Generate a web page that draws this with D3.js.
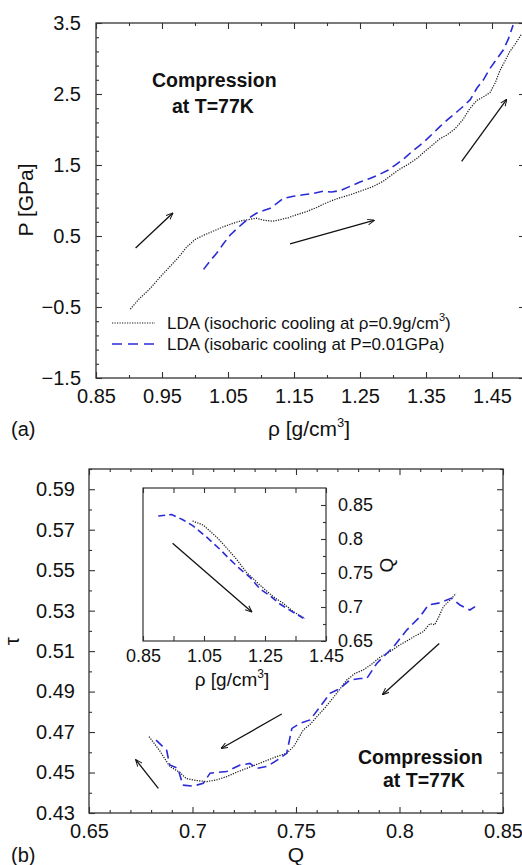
<!DOCTYPE html>
<html>
<head>
<meta charset="utf-8">
<script src="https://cdn.jsdelivr.net/npm/d3@7"></script>
<style>
  body { margin: 0; background: #fff; }
  svg { display: block; font-family: "Liberation Sans", Arial, sans-serif; }
  .tick text { fill: #111; }
  .tick line { stroke: #333; }
</style>
</head>
<body>
<svg id="fig" width="522" height="865"></svg>
<script>
// (a) P vs rho, isochoric LDA (black dotted)
var isoRho = [0.902, 0.915, 0.932, 0.947, 0.962, 0.975, 0.987, 1.000, 1.013, 1.028, 1.043, 1.055, 1.068, 1.08, 1.093, 1.105, 1.118, 1.129, 1.142, 1.154, 1.168, 1.184, 1.195, 1.205, 1.22, 1.235, 1.25, 1.268, 1.285, 1.298, 1.31, 1.323, 1.336, 1.348, 1.361, 1.371, 1.381, 1.394, 1.406, 1.416, 1.427, 1.437, 1.447, 1.455, 1.462, 1.47, 1.477, 1.485, 1.495];
var isoP = [-0.53, -0.39, -0.24, -0.08, 0.07, 0.2, 0.34, 0.45, 0.51, 0.57, 0.63, 0.67, 0.71, 0.73, 0.75, 0.72, 0.71, 0.73, 0.76, 0.80, 0.84, 0.90, 0.95, 0.99, 1.04, 1.08, 1.13, 1.19, 1.27, 1.36, 1.44, 1.51, 1.59, 1.69, 1.79, 1.87, 1.92, 2.01, 2.14, 2.29, 2.41, 2.46, 2.52, 2.66, 2.83, 2.97, 3.1, 3.2, 3.35];
// (a) isobaric LDA (blue dashed)
var isbRho = [1.013, 1.023, 1.033, 1.043, 1.053, 1.063, 1.073, 1.083, 1.093, 1.104, 1.114, 1.124, 1.134, 1.149, 1.164, 1.179, 1.194, 1.207, 1.22, 1.235, 1.25, 1.265, 1.28, 1.293, 1.305, 1.318, 1.33, 1.341, 1.351, 1.361, 1.371, 1.384, 1.397, 1.407, 1.417, 1.427, 1.437, 1.447, 1.457, 1.467, 1.475, 1.482];
var isbP = [0.03, 0.15, 0.26, 0.39, 0.51, 0.60, 0.68, 0.76, 0.82, 0.86, 0.89, 0.96, 1.03, 1.06, 1.08, 1.10, 1.13, 1.12, 1.14, 1.20, 1.26, 1.31, 1.37, 1.43, 1.51, 1.60, 1.70, 1.78, 1.86, 1.95, 2.04, 2.15, 2.25, 2.33, 2.42, 2.58, 2.70, 2.86, 2.99, 3.12, 3.28, 3.47];

// (b) tau vs Q
var isoQ = [0.679, 0.684, 0.689, 0.694, 0.697, 0.702, 0.707, 0.712, 0.7165, 0.721, 0.726, 0.731, 0.736, 0.741, 0.7455, 0.749, 0.7535, 0.757, 0.760, 0.764, 0.768, 0.771, 0.7745, 0.7785, 0.7825, 0.7865, 0.7906, 0.795, 0.800, 0.8035, 0.8067, 0.8115, 0.8147, 0.817, 0.819, 0.8212, 0.8244, 0.8273];
var isoTau = [0.4677, 0.461, 0.453, 0.450, 0.447, 0.446, 0.4455, 0.4465, 0.448, 0.450, 0.452, 0.454, 0.456, 0.458, 0.4595, 0.463, 0.471, 0.474, 0.4775, 0.482, 0.487, 0.491, 0.4957, 0.499, 0.5007, 0.5035, 0.507, 0.5095, 0.513, 0.515, 0.517, 0.5196, 0.5236, 0.523, 0.527, 0.532, 0.5352, 0.5385];
var isbQ = [0.6824, 0.6875, 0.689, 0.693, 0.6953, 0.7004, 0.7052, 0.7085, 0.7165, 0.723, 0.7278, 0.731, 0.736, 0.7407, 0.7455, 0.748, 0.752, 0.7568, 0.7616, 0.7664, 0.7713, 0.776, 0.781, 0.7842, 0.789, 0.7938, 0.797, 0.8035, 0.8099, 0.8139, 0.8188, 0.8252, 0.8292, 0.834, 0.8365];
var isbTau = [0.466, 0.461, 0.4537, 0.452, 0.4438, 0.4433, 0.4447, 0.4497, 0.4505, 0.4537, 0.4545, 0.452, 0.453, 0.456, 0.4595, 0.4718, 0.4743, 0.476, 0.4825, 0.4891, 0.4916, 0.4957, 0.4965, 0.4965, 0.5039, 0.5088, 0.512, 0.5204, 0.527, 0.5328, 0.5337, 0.5362, 0.5328, 0.5303, 0.532];

// inset: Q vs rho
var insIsoRho = [1.0125, 1.047, 1.091, 1.124, 1.157, 1.19, 1.233, 1.277, 1.31, 1.343, 1.381];
var insIsoQ = [0.8265, 0.8206, 0.803, 0.787, 0.770, 0.7506, 0.7324, 0.7151, 0.7054, 0.6931, 0.6833];
var insIsbRho = [0.900, 0.944, 0.982, 1.015, 1.058, 1.102, 1.135, 1.168, 1.2, 1.234, 1.266, 1.299, 1.332, 1.376];
var insIsbQ = [0.8338, 0.836, 0.828, 0.819, 0.803, 0.785, 0.770, 0.756, 0.744, 0.7265, 0.7166, 0.7044, 0.6951, 0.6834];

// arrows [x1, y1, x2, y2] in data units
var arrowsA = [[0.91, 0.33, 0.966, 0.82], [1.144, 0.39, 1.271, 0.72], [1.404, 1.55, 1.472, 2.42]];
var arrowsB = [[0.6835, 0.4422, 0.6727, 0.4562], [0.7431, 0.4789, 0.7140, 0.4620], [0.8192, 0.5138, 0.7919, 0.4886]];
var arrowsIns = [[0.947, 0.7937, 1.206, 0.6931]];

var legendLabels = ["LDA (isochoric cooling at \u03C1=0.9g/cm", "LDA (isobaric cooling at P=0.01GPa)"];

var svg = d3.select("#fig");
var BLUE = "#2b2bd6";
var INK = "#111";

function zip(a, b) { return a.map((v, i) => [v, b[i]]); }
function rnd(v) { return Math.round(v * 1000) / 1000; }

svg.append("defs").append("marker")
    .attr("id", "head")
    .attr("viewBox", "0 0 10 10")
    .attr("refX", 9).attr("refY", 5)
    .attr("markerWidth", 7).attr("markerHeight", 7)
    .attr("markerUnits", "userSpaceOnUse")
    .attr("orient", "auto")
  .append("path")
    .attr("d", "M0,1 L10,5 L0,9")
    .attr("fill", "none").attr("stroke", INK).attr("stroke-width", 1.4);

// inward ticks on all four sides, labels on left/bottom
function frame(g, x, y, xMaj, xMin, yMaj, yMin, xFmt, yFmt, fs, xPad, yPad) {
    var x0 = x.range()[0], x1 = x.range()[1], y0 = y.range()[0], y1 = y.range()[1];
    g.append("g").attr("transform", `translate(0,${y0})`)
        .call(d3.axisBottom(x).tickValues(xMaj).tickSizeInner(-6).tickSizeOuter(0).tickPadding(xPad).tickFormat(xFmt));
    g.append("g").attr("transform", `translate(0,${y0})`)
        .call(d3.axisBottom(x).tickValues(xMin).tickSizeInner(-3).tickSizeOuter(0).tickFormat(""));
    g.append("g").attr("transform", `translate(0,${y1})`)
        .call(d3.axisTop(x).tickValues(xMaj).tickSizeInner(-6).tickSizeOuter(0).tickFormat(""));
    g.append("g").attr("transform", `translate(0,${y1})`)
        .call(d3.axisTop(x).tickValues(xMin).tickSizeInner(-3).tickSizeOuter(0).tickFormat(""));
    g.append("g").attr("transform", `translate(${x0},0)`)
        .call(d3.axisLeft(y).tickValues(yMaj).tickSizeInner(-6).tickSizeOuter(0).tickPadding(yPad).tickFormat(yFmt));
    g.append("g").attr("transform", `translate(${x0},0)`)
        .call(d3.axisLeft(y).tickValues(yMin).tickSizeInner(-3).tickSizeOuter(0).tickFormat(""));
    g.append("g").attr("transform", `translate(${x1},0)`)
        .call(d3.axisRight(y).tickValues(yMaj).tickSizeInner(-6).tickSizeOuter(0).tickFormat(""));
    g.append("g").attr("transform", `translate(${x1},0)`)
        .call(d3.axisRight(y).tickValues(yMin).tickSizeInner(-3).tickSizeOuter(0).tickFormat(""));
    g.selectAll(".domain").remove();
    g.selectAll(".tick text").attr("font-size", fs).attr("font-family", null);
    g.selectAll(".tick line").attr("stroke-width", 1.1);
    g.append("rect")
        .attr("x", x0).attr("y", y1).attr("width", x1 - x0).attr("height", y0 - y1)
        .attr("fill", "none").attr("stroke", "#333").attr("stroke-width", 1.3);
}

function arrows(g, x, y, list) {
    g.selectAll(null).data(list).enter().append("line")
        .attr("x1", d => x(d[0])).attr("y1", d => y(d[1]))
        .attr("x2", d => x(d[2])).attr("y2", d => y(d[3]))
        .attr("stroke", INK).attr("stroke-width", 1.3)
        .attr("marker-end", "url(#head)");
}

function curves(g, x, y, dotted, dashed, dw) {
    var line = d3.line().x(d => x(d[0])).y(d => y(d[1]));
    g.append("path").attr("d", line(dotted))
        .attr("fill", "none").attr("stroke", "#1a1a1a").attr("stroke-width", 1.25)
        .attr("stroke-dasharray", "1.2,1.3");
    g.append("path").attr("d", line(dashed))
        .attr("fill", "none").attr("stroke", BLUE).attr("stroke-width", 1.6)
        .attr("stroke-dasharray", dw);
}

function bigText(g, x, y, lines) {
    var t = g.append("text").attr("font-weight", "bold").attr("font-size", 19.5).attr("fill", INK);
    lines.forEach(function (l, i) {
        t.append("tspan").attr("x", x[i]).attr("y", y[i]).text(l);
    });
}

// ---------------- panel (a) ----------------
var xA = d3.scaleLinear().domain([0.85, 1.5]).range([96, 525]);
var yA = d3.scaleLinear().domain([-1.5, 3.5]).range([378, 23]);
var gA = svg.append("g");

frame(gA, xA, yA,
    d3.range(0, 7).map(i => rnd(0.85 + i * 0.1)),
    d3.range(0, 7).map(i => rnd(0.9 + i * 0.1)),
    d3.range(0, 6).map(i => -1.5 + i),
    d3.range(0, 25).map(i => rnd(-1.5 + i * 0.2)).filter(v => Math.abs((v + 1.5) % 1) > 0.01 && Math.abs((v + 1.5) % 1 - 1) > 0.01),
    d3.format(".2f"), v => d3.format(".1f")(v).replace("-", "\u2212"), 20, 11, 15);

curves(gA, xA, yA, zip(isoRho, isoP), zip(isbRho, isbP), "9,5");
arrows(gA, xA, yA, arrowsA);
bigText(gA, [152, 172], [87, 113], ["Compression", "at T=77K"]);

// legend
var leg = gA.append("g");
leg.append("line").attr("x1", 112).attr("x2", 155).attr("y1", 323).attr("y2", 323)
    .attr("stroke", "#1a1a1a").attr("stroke-width", 1.2).attr("stroke-dasharray", "1.2,1.3");
leg.append("line").attr("x1", 112).attr("x2", 155).attr("y1", 344).attr("y2", 344)
    .attr("stroke", BLUE).attr("stroke-width", 1.6).attr("stroke-dasharray", "10,6");
var l1 = leg.append("text").attr("x", 167).attr("y", 329).attr("font-size", 17).attr("fill", INK);
l1.append("tspan").text(legendLabels[0]);
l1.append("tspan").attr("dy", -8).attr("font-size", 11).text("3");
l1.append("tspan").attr("dy", 8).text(")");
leg.append("text").attr("x", 167).attr("y", 350).attr("font-size", 17).attr("fill", INK).text(legendLabels[1]);

// axis labels (a)
var xlA = gA.append("text").attr("x", 309).attr("y", 436).attr("text-anchor", "middle").attr("font-size", 21).attr("fill", INK);
xlA.append("tspan").text("\u03C1 [g/cm");
xlA.append("tspan").attr("dy", -9).attr("font-size", 13).text("3");
xlA.append("tspan").attr("dy", 9).text("]");
gA.append("text").attr("transform", "translate(33,200) rotate(-90)").attr("text-anchor", "middle")
    .attr("font-size", 21).attr("fill", INK).text("P [GPa]");
gA.append("text").attr("x", 11).attr("y", 436).attr("font-size", 20).attr("fill", INK).text("(a)");

// ---------------- panel (b) ----------------
var xB = d3.scaleLinear().domain([0.65, 0.85]).range([89, 503]);
var yB = d3.scaleLinear().domain([0.43, 0.60]).range([813, 469]);
var gB = svg.append("g");

frame(gB, xB, yB,
    d3.range(0, 5).map(i => rnd(0.65 + i * 0.05)),
    d3.range(0, 21).map(i => rnd(0.65 + i * 0.01)).filter(v => Math.abs(Math.round(v * 20) - v * 20) > 0.01),
    d3.range(0, 9).map(i => rnd(0.43 + i * 0.02)),
    d3.range(0, 9).map(i => rnd(0.44 + i * 0.02)),
    v => (Math.round(v * 100) % 5 === 0 && Math.round(v * 100) % 10 !== 0) ? d3.format(".2f")(v) : d3.format(".1f")(v),
    d3.format(".2f"), 20, 11, 14);

curves(gB, xB, yB, zip(isoQ, isoTau), zip(isbQ, isbTau), "9,5");
arrows(gB, xB, yB, arrowsB);
bigText(gB, [358, 383], [764, 787], ["Compression", "at T=77K"]);

gB.append("text").attr("x", xB(0.75)).attr("y", 862).attr("text-anchor", "middle")
    .attr("font-size", 21).attr("fill", INK).text("Q");
gB.append("text").attr("transform", "translate(19,641) rotate(-90)").attr("text-anchor", "middle")
    .attr("font-size", 21).attr("fill", INK).text("\u03C4");
gB.append("text").attr("x", 11).attr("y", 862).attr("font-size", 20).attr("fill", INK).text("(b)");

// ---------------- inset ----------------
var xI = d3.scaleLinear().domain([0.85, 1.45]).range([143, 326]);
var yI = d3.scaleLinear().domain([0.65, 0.875]).range([641, 488]);
var gI = svg.append("g");
gI.append("rect").attr("x", 143).attr("y", 488).attr("width", 183).attr("height", 153).attr("fill", "#fff");

var insXMaj = [0.85, 1.05, 1.25, 1.45];
var insXMin = [0.95, 1.15, 1.35];
var insYMaj = [0.65, 0.7, 0.75, 0.8, 0.85];
var insYMin = [0.675, 0.725, 0.775, 0.825];

gI.append("g").attr("transform", "translate(0,641)")
    .call(d3.axisBottom(xI).tickValues(insXMaj).tickSizeInner(-5).tickSizeOuter(0).tickPadding(8).tickFormat(d3.format(".2f")));
gI.append("g").attr("transform", "translate(0,641)")
    .call(d3.axisBottom(xI).tickValues(insXMin).tickSizeInner(-5).tickSizeOuter(0).tickFormat(""));
gI.append("g").attr("transform", "translate(0,488)")
    .call(d3.axisTop(xI).tickValues(insXMaj.concat(insXMin)).tickSizeInner(-5).tickSizeOuter(0).tickFormat(""));
gI.append("g").attr("transform", "translate(326,0)")
    .call(d3.axisRight(yI).tickValues(insYMaj).tickSizeInner(-5).tickSizeOuter(0).tickPadding(12)
        .tickFormat(v => (Math.round(v * 100) % 10 === 0) ? d3.format(".1f")(v) : d3.format(".2f")(v)));
gI.append("g").attr("transform", "translate(326,0)")
    .call(d3.axisRight(yI).tickValues(insYMin).tickSizeInner(-3).tickSizeOuter(0).tickFormat(""));
gI.selectAll(".domain").remove();
gI.selectAll(".tick text").attr("font-size", 18).attr("font-family", null);
gI.selectAll(".tick line").attr("stroke-width", 1.1);
gI.append("rect").attr("x", 143).attr("y", 488).attr("width", 183).attr("height", 153)
    .attr("fill", "none").attr("stroke", "#333").attr("stroke-width", 1.2);

curves(gI, xI, yI, zip(insIsoRho, insIsoQ), zip(insIsbRho, insIsbQ), "7,4");
arrows(gI, xI, yI, arrowsIns);

var xlI = gI.append("text").attr("x", 232).attr("y", 686).attr("text-anchor", "middle").attr("font-size", 19).attr("fill", INK);
xlI.append("tspan").text("\u03C1 [g/cm");
xlI.append("tspan").attr("dy", -8).attr("font-size", 12).text("3");
xlI.append("tspan").attr("dy", 8).text("]");
gI.append("text").attr("transform", "translate(393,565) rotate(-90)").attr("text-anchor", "middle")
    .attr("font-size", 19).attr("fill", INK).text("Q");
</script>
</body>
</html>
